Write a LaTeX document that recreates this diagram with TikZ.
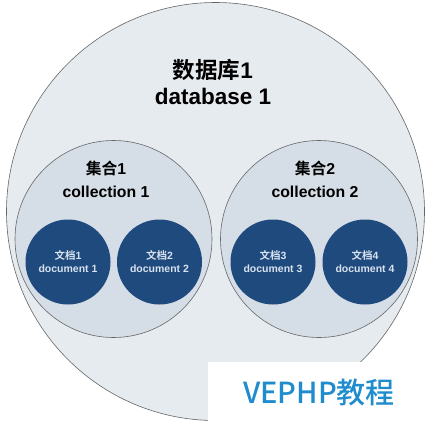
\documentclass[tikz,border=0pt]{standalone}
\usepackage{fontspec}
\setmainfont{Liberation Sans}
\newfontfamily\cjk[BoldFont={Noto Sans CJK SC Bold}]{Noto Sans CJK SC}
\newfontfamily\markfont{Noto Sans CJK SC Medium}
\usetikzlibrary{positioning}
\definecolor{dbfill}{RGB}{230,235,240}
\definecolor{collfill}{RGB}{213,221,230}
\definecolor{docfill}{RGB}{31,74,126}
\definecolor{doctext}{RGB}{216,226,238}
\definecolor{markblue}{RGB}{30,140,205}
\tikzset{
	ring/.style={circle, draw=gray!80!black, line width=.6pt, inner sep=0pt},
	docnode/.style={circle, fill=docfill, minimum size=85pt, inner sep=0pt, align=center,
		text=doctext, font=\fontsize{10.5}{13}\selectfont\bfseries}
}

\begin{document}
\begin{tikzpicture}[x=1pt, y=-1pt]
				\useasboundingbox (0,0) rectangle (431,423);
				\fill[white] (0,0) rectangle (431,423);
				\node[ring, fill=dbfill, minimum size=418pt] (db) at (215.5,211.5) {};
				\node[ring, fill=collfill, minimum size=197pt] (coll1) at (113.5,239) {};
				\node[ring, fill=collfill, minimum size=197pt] (coll2) at (319,239) {};
				\node[docnode] (doc1) at (68,262) {{\cjk 文档}1\\document 1};
				\node[docnode] (doc2) at (159.5,262) {{\cjk 文档}2\\document 2};
				\node[docnode] (doc3) at (273,262) {{\cjk 文档}3\\document 3};
				\node[docnode] (doc4) at (365,262) {{\cjk 文档}4\\document 4};
				\node[align=center, font=\fontsize{22.5}{26}\selectfont\bfseries] (dbtext) at (213,82) {{\cjk 数据库}1\\database 1};
				\node[align=center, font=\fontsize{15.8}{23}\selectfont\bfseries] (coll1text) at (106,179) {{\cjk 集合}1\\collection 1};
				\node[align=center, font=\fontsize{15.8}{23}\selectfont\bfseries] (coll2text) at (315,179) {{\cjk 集合}2\\collection 2};
				% watermark
				\fill[white] (208,362) rectangle (431,423);
				\node[text=markblue, font=\fontsize{29}{30}\markfont] (mark) at (319,393) {VEPHP教程};
			\end{tikzpicture}
\end{document}
